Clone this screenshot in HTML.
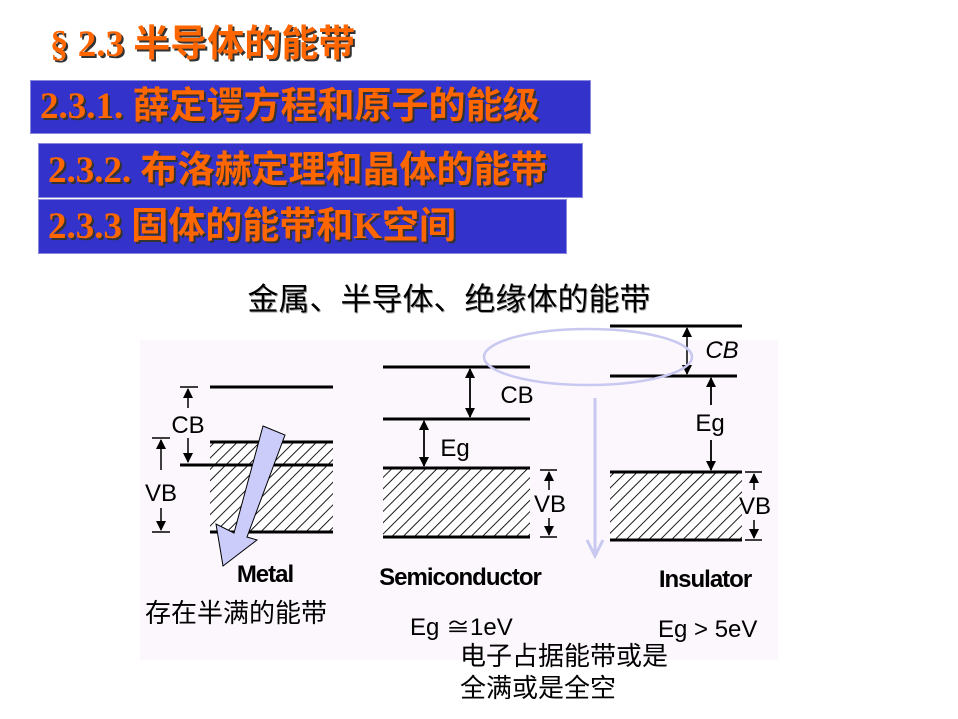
<!DOCTYPE html>
<html><head><meta charset="utf-8"><style>
html,body{margin:0;padding:0;background:#fff;width:958px;height:719px;overflow:hidden}
.h{position:absolute;font-family:"Liberation Serif","Noto Sans CJK SC",serif;font-weight:bold;color:#ff6600;font-size:37px;text-shadow:2px 2px 0 #333;white-space:nowrap;line-height:1}
.box{position:absolute;background:#3333cc;border:1px solid #8888dd}
</style></head><body>
<div class="h" style="left:50px;top:26px;">§ 2.3 半导体的能带</div>
<div class="box" style="left:30px;top:80px;width:559px;height:52px"></div>
<div class="h" style="left:40px;top:88px;">2.3.1. 薛定谔方程和原子的能级</div>
<div class="box" style="left:38px;top:143px;width:543px;height:53px"></div>
<div class="h" style="left:48px;top:152px;">2.3.2. 布洛赫定理和晶体的能带</div>
<div class="box" style="left:38px;top:199px;width:527px;height:53px"></div>
<div class="h" style="left:48px;top:208px;">2.3.3 固体的能带和K空间</div>
<svg width="958" height="719" style="position:absolute;left:0;top:0" font-family="Liberation Sans, Noto Sans CJK SC, sans-serif">
<defs>
<pattern id="hatch" patternUnits="userSpaceOnUse" width="8" height="8" patternTransform="rotate(45)">
<rect width="8" height="8" fill="#fff"/><line x1="0" y1="0" x2="0" y2="8" stroke="#000" stroke-width="1.8"/></pattern>
<marker id="ah" markerWidth="10" markerHeight="12" refX="9" refY="6" orient="auto" markerUnits="userSpaceOnUse"><path d="M0,1 L10,6 L0,11z" fill="#000"/></marker>
</defs>
<rect x="140" y="340" width="638" height="320" fill="#fcf7fc"/>
<text x="449" y="310" font-size="31" text-anchor="middle" fill="#000" style="text-shadow:1px 1px 0 #999">金属、半导体、绝缘体的能带</text>
<g stroke="#000" fill="none">
<line x1="210" y1="387" x2="333" y2="387" stroke-width="3"/>
<rect x="210" y="442" width="123" height="90" fill="url(#hatch)" stroke="none"/>
<line x1="210" y1="442" x2="333" y2="442" stroke-width="3"/>
<line x1="180" y1="465" x2="333" y2="465" stroke-width="3"/>
<line x1="210" y1="532" x2="333" y2="532" stroke-width="3"/>
<line x1="180" y1="387" x2="198" y2="387" stroke-width="1.5"/>
<line x1="188" y1="408" x2="188" y2="389" stroke-width="1.5" marker-end="url(#ah)"/>
<line x1="188" y1="438" x2="188" y2="462" stroke-width="1.5" marker-end="url(#ah)"/>
<line x1="152" y1="438" x2="170" y2="438" stroke-width="1.5"/>
<line x1="152" y1="532" x2="170" y2="532" stroke-width="1.5"/>
<line x1="161" y1="470" x2="161" y2="440" stroke-width="1.5" marker-end="url(#ah)"/>
<line x1="161" y1="508" x2="161" y2="530" stroke-width="1.5" marker-end="url(#ah)"/>
<line x1="383" y1="367" x2="530" y2="367" stroke-width="3"/>
<line x1="383" y1="419" x2="530" y2="419" stroke-width="3"/>
<rect x="383" y="468" width="147" height="69" fill="url(#hatch)" stroke="none"/>
<line x1="383" y1="468" x2="530" y2="468" stroke-width="3"/>
<line x1="383" y1="537" x2="530" y2="537" stroke-width="3"/>
<line x1="470" y1="393" x2="470" y2="369" stroke-width="1.8" marker-end="url(#ah)"/>
<line x1="470" y1="393" x2="470" y2="417" stroke-width="1.8" marker-end="url(#ah)"/>
<line x1="424" y1="443" x2="424" y2="421" stroke-width="1.8" marker-end="url(#ah)"/>
<line x1="424" y1="443" x2="424" y2="466" stroke-width="1.8" marker-end="url(#ah)"/>
<line x1="540" y1="470" x2="557" y2="470" stroke-width="1.5"/>
<line x1="540" y1="537" x2="557" y2="537" stroke-width="1.5"/>
<line x1="549" y1="490" x2="549" y2="472" stroke-width="1.5" marker-end="url(#ah)"/>
<line x1="549" y1="518" x2="549" y2="535" stroke-width="1.5" marker-end="url(#ah)"/>
<line x1="610" y1="326" x2="742" y2="326" stroke-width="3"/>
<line x1="610" y1="376" x2="737" y2="376" stroke-width="3"/>
<rect x="610" y="472" width="132" height="68" fill="url(#hatch)" stroke="none"/>
<line x1="610" y1="472" x2="742" y2="472" stroke-width="3"/>
<line x1="610" y1="540" x2="742" y2="540" stroke-width="3"/>
<line x1="687" y1="350" x2="687" y2="328" stroke-width="1.5" marker-end="url(#ah)"/>
<line x1="687" y1="350" x2="687" y2="374" stroke-width="1.5" marker-end="url(#ah)"/>
<line x1="711" y1="405" x2="711" y2="378" stroke-width="1.8" marker-end="url(#ah)"/>
<line x1="711" y1="440" x2="711" y2="470" stroke-width="1.8" marker-end="url(#ah)"/>
<line x1="745" y1="472" x2="762" y2="472" stroke-width="1.5"/>
<line x1="745" y1="540" x2="762" y2="540" stroke-width="1.5"/>
<line x1="754" y1="490" x2="754" y2="474" stroke-width="1.5" marker-end="url(#ah)"/>
<line x1="754" y1="520" x2="754" y2="538" stroke-width="1.5" marker-end="url(#ah)"/>
</g>
<g font-size="24" fill="#000">
<text x="188" y="433" text-anchor="middle">CB</text>
<text x="161" y="501" text-anchor="middle">VB</text>
<text x="517" y="403" text-anchor="middle">CB</text>
<text x="455" y="456" text-anchor="middle">Eg</text>
<text x="550" y="512" text-anchor="middle">VB</text>
<text x="722" y="358" text-anchor="middle" font-style="italic">CB</text>
<text x="710" y="431" text-anchor="middle">Eg</text>
<text x="755" y="514" text-anchor="middle">VB</text>
<text x="265" y="582" text-anchor="middle" font-weight="bold" font-size="24" letter-spacing="-1">Metal</text>
<text x="460" y="585" text-anchor="middle" font-weight="bold" font-size="24" letter-spacing="-1">Semiconductor</text>
<text x="705" y="587" text-anchor="middle" font-weight="bold" font-size="24" letter-spacing="-1">Insulator</text>
<text x="410" y="635">Eg  ≅1eV</text>
<text x="658" y="637">Eg  &gt;  5eV</text>
<text x="145" y="622" font-size="26">存在半满的能带</text>
<text x="460" y="665" font-size="26">电子占据能带或是</text>
<text x="460" y="697" font-size="26">全满或是全空</text>
</g>
<ellipse cx="588" cy="357" rx="104" ry="28" fill="none" stroke="#c8c8f0" stroke-width="2.5"/>
<line x1="595" y1="398" x2="595" y2="554" stroke="#c8c8f0" stroke-width="3"/>
<path d="M587,540 L595,556 L603,540" fill="none" stroke="#c8c8f0" stroke-width="3"/>
<path d="M263,426 L285,435 L247,537 L257,540 L223,566 L216,524 L234,533 Z" fill="#ccccfa" stroke="#000" stroke-width="1"/>
</svg>
</body></html>
